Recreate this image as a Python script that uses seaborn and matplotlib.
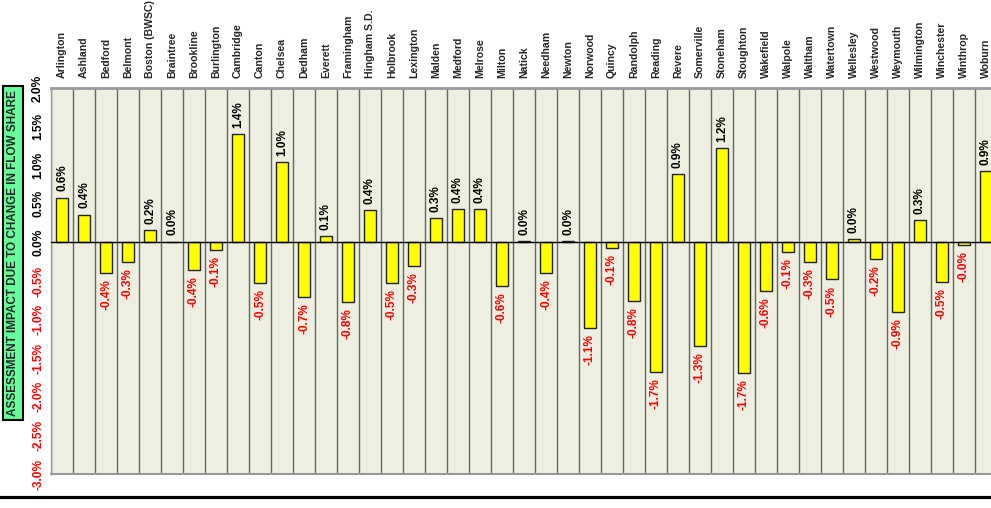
import numpy as np
import pandas as pd
import seaborn as sns
import matplotlib.pyplot as plt
from matplotlib.lines import Line2D

# towns in the district, left to right
towns = [
    "Arlington", "Ashland", "Bedford", "Belmont", "Boston (BWSC)", "Braintree",
    "Brookline", "Burlington", "Cambridge", "Canton", "Chelsea", "Dedham",
    "Everett", "Framingham", "Hingham S.D.", "Holbrook", "Lexington", "Malden",
    "Medford", "Melrose", "Milton", "Natick", "Needham", "Newton", "Norwood",
    "Quincy", "Randolph", "Reading", "Revere", "Somerville", "Stoneham",
    "Stoughton", "Wakefield", "Walpole", "Waltham", "Watertown", "Wellesley",
    "Westwood", "Weymouth", "Wilmington", "Winchester", "Winthrop", "Woburn",
]

# assessment impact in percent
impact = [
    0.58, 0.36, -0.39, -0.26, 0.16, 0.01,
    -0.36, -0.10, 1.40, -0.53, 1.04, -0.71,
    0.08, -0.77, 0.42, -0.52, -0.31, 0.31,
    0.43, 0.43, -0.57, 0.02, -0.40, 0.02, -1.11,
    -0.07, -0.76, -1.68, 0.88, -1.34, 1.22,
    -1.69, -0.63, -0.12, -0.26, -0.48, 0.04,
    -0.22, -0.90, 0.29, -0.51, -0.03, 0.92,
]

y_ticks = [2.0, 1.5, 1.0, 0.5, 0.0, -0.5, -1.0, -1.5, -2.0, -2.5, -3.0]

df = pd.DataFrame({"town": towns, "impact": impact})

sns.set_style("white")
plt.rcParams["font.family"] = ["Liberation Sans", "DejaVu Sans"]

W, H = 991, 508
fig = plt.figure(figsize=(W / 100, H / 100), dpi=100)
n = len(towns)
left, right, top, bottom = 51, 51 + n * 22, 88, 474
ax = fig.add_axes([left / W, 1 - bottom / H, (right - left) / W, (bottom - top) / H])
ax.set_facecolor("#EEEFE0")

sns.barplot(data=df, x="town", y="impact", color="#FFFF00", saturation=1,
            edgecolor="#222222", linewidth=1.0, width=0.55, ax=ax, zorder=3)

ax.set_xlim(-0.5, n - 0.5)
ax.set_ylim(-3.0, 2.0)
ax.axhline(0, color="black", lw=1.0, zorder=4)

# column separators
ax.set_xticks(np.arange(-0.5, n, 1.0), minor=True)
ax.grid(which="minor", axis="x", color="#666666", lw=1.0, zorder=1)
ax.tick_params(which="minor", length=0)

# town names on top
ax.xaxis.tick_top()
ax.set_xticks(range(n))
ax.set_xticklabels(towns, rotation=90, fontsize=7.6, fontweight="bold")
ax.tick_params(axis="x", length=0, pad=7)
ax.set_xlabel("")

ax.set_yticks(y_ticks)
ax.set_yticklabels([f"{t:.1f}%" for t in y_ticks], rotation=90, va="center",
                   fontsize=8.6, fontweight="bold")
for lab, t in zip(ax.get_yticklabels(), y_ticks):
    lab.set_color("red" if t < 0 else "black")
ax.tick_params(axis="y", length=0, pad=5)
ax.set_ylabel("")

for side in ["top", "bottom", "left", "right"]:
    ax.spines[side].set_color("#999999")
ax.spines["top"].set_linewidth(2.0)
ax.spines["bottom"].set_linewidth(1.5)
ax.spines["left"].set_linewidth(1.0)

# value labels
for i, v in enumerate(impact):
    txt = f"{v:.1f}%"
    if v >= 0:
        ax.annotate(txt, (i, v), xytext=(0, 4.5), textcoords="offset points",
                    rotation=90, ha="center", va="bottom", fontsize=8.5,
                    fontweight="bold", color="black", zorder=5)
    else:
        ax.annotate(txt, (i, v), xytext=(0, -4.5), textcoords="offset points",
                    rotation=90, ha="center", va="top", fontsize=8.5,
                    fontweight="bold", color="red", zorder=5)

fig.text(13 / W, 1 - 253 / H, "ASSESSMENT IMPACT DUE TO CHANGE IN FLOW SHARE",
         rotation=90, ha="center", va="center", fontsize=8.5, fontweight="bold",
         bbox=dict(boxstyle="square,pad=0.35", facecolor="#66FF99",
                   edgecolor="black", linewidth=1.5))

fig.add_artist(Line2D([0, 1], [1 - 496.5 / H, 1 - 496.5 / H], color="black",
                      lw=2.3, transform=fig.transFigure))

fig.savefig("out.png", dpi=100)
